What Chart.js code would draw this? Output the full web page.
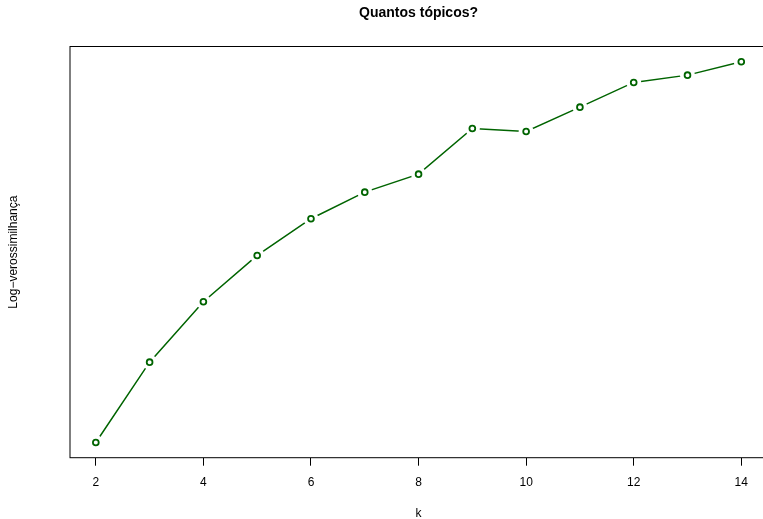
<!DOCTYPE html>
<html><head><meta charset="utf-8">
<script src="https://cdn.jsdelivr.net/npm/chart.js@4/dist/chart.umd.min.js"></script>
<style>html,body{margin:0;padding:0;overflow:hidden;background:#fff;width:763px;height:519px}</style>
</head><body>
<canvas id="c" width="780" height="519" style="display:block;width:780px;height:519px"></canvas>
<script>
const chartTitle = 'Quantos tópicos?';
const xLabel = 'k';
const yLabel = 'Log\u2212verossimilhança';
const kValues = [2, 3, 4, 5, 6, 7, 8, 9, 10, 11, 12, 13, 14];
const logLik = [-443, -362.7, -302.3, -256, -219.3, -192.7, -174.7, -129, -132, -107.7, -83, -75.7, -62.3];
const xTicks = [2, 4, 6, 8, 10, 12, 14];

const GREEN = '#006400';
const pts = kValues.map((k, i) => ({x: k, y: logLik[i]}));
const xr = Math.max(...kValues) - Math.min(...kValues);
const yr = Math.max(...logLik) - Math.min(...logLik);

Chart.defaults.font.family = '"Liberation Sans", Arial, Helvetica, sans-serif';
Chart.defaults.font.size = 12;
Chart.defaults.color = '#000';

const boxPlugin = {
  id: 'rbox',
  afterDatasetsDraw(chart) {
    const {ctx, chartArea: a} = chart;
    ctx.save();
    ctx.strokeStyle = '#000';
    ctx.lineWidth = 1;
    ctx.strokeRect(a.left, a.top, a.right - a.left, a.bottom - a.top);
    ctx.restore();
  }
};

new Chart(document.getElementById('c'), {
  type: 'scatter',
  data: {
    datasets: [
      {data: pts, showLine: true, borderColor: GREEN, borderWidth: 1.5, pointRadius: 0, tension: 0, order: 3},
      {data: pts, showLine: false, pointRadius: 7.5, pointBackgroundColor: '#fff', pointBorderWidth: 0, pointBorderColor: 'rgba(0,0,0,0)', order: 2},
      {data: pts, showLine: false, pointRadius: 2.9, pointBorderWidth: 1.8, pointBorderColor: GREEN, pointBackgroundColor: 'rgba(0,0,0,0)', order: 1}
    ]
  },
  options: {
    responsive: false,
    animation: false,
    events: [],
    layout: {padding: {left: 0, top: 0, right: 12.9, bottom: 0}},
    plugins: {
      legend: {display: false},
      tooltip: {enabled: false},
      title: {display: true, text: chartTitle, fullSize: false, color: '#000',
        font: {size: 14, weight: 'bold'}, padding: {top: 4.6, bottom: 25.1}}
    },
    scales: {
      x: {
        type: 'linear',
        min: Math.min(...kValues) - 0.04 * xr,
        max: Math.max(...kValues) + 0.04 * xr,
        afterBuildTicks: s => { s.ticks = xTicks.map(v => ({value: v})); },
        afterFit: s => { s.height = 61.3; },
        border: {display: false},
        grid: {drawOnChartArea: false, drawTicks: true, tickLength: 8, color: '#000', lineWidth: 1},
        ticks: {padding: 10, color: '#000', font: {size: 12}, maxRotation: 0, autoSkip: false},
        title: {display: true, text: xLabel, color: '#000', font: {size: 12, lineHeight: 0.9}, padding: {top: 0, bottom: 0}}
      },
      y: {
        type: 'linear',
        min: Math.min(...logLik) - 0.04 * yr,
        max: Math.max(...logLik) + 0.04 * yr,
        afterFit: s => { s.width = 70; },
        border: {display: false},
        grid: {display: false},
        ticks: {display: false},
        title: {display: true, text: yLabel, color: '#000', font: {size: 12, lineHeight: 1}, padding: {top: 8, bottom: 0}}
      }
    }
  },
  plugins: [boxPlugin]
});
</script>
</body></html>
